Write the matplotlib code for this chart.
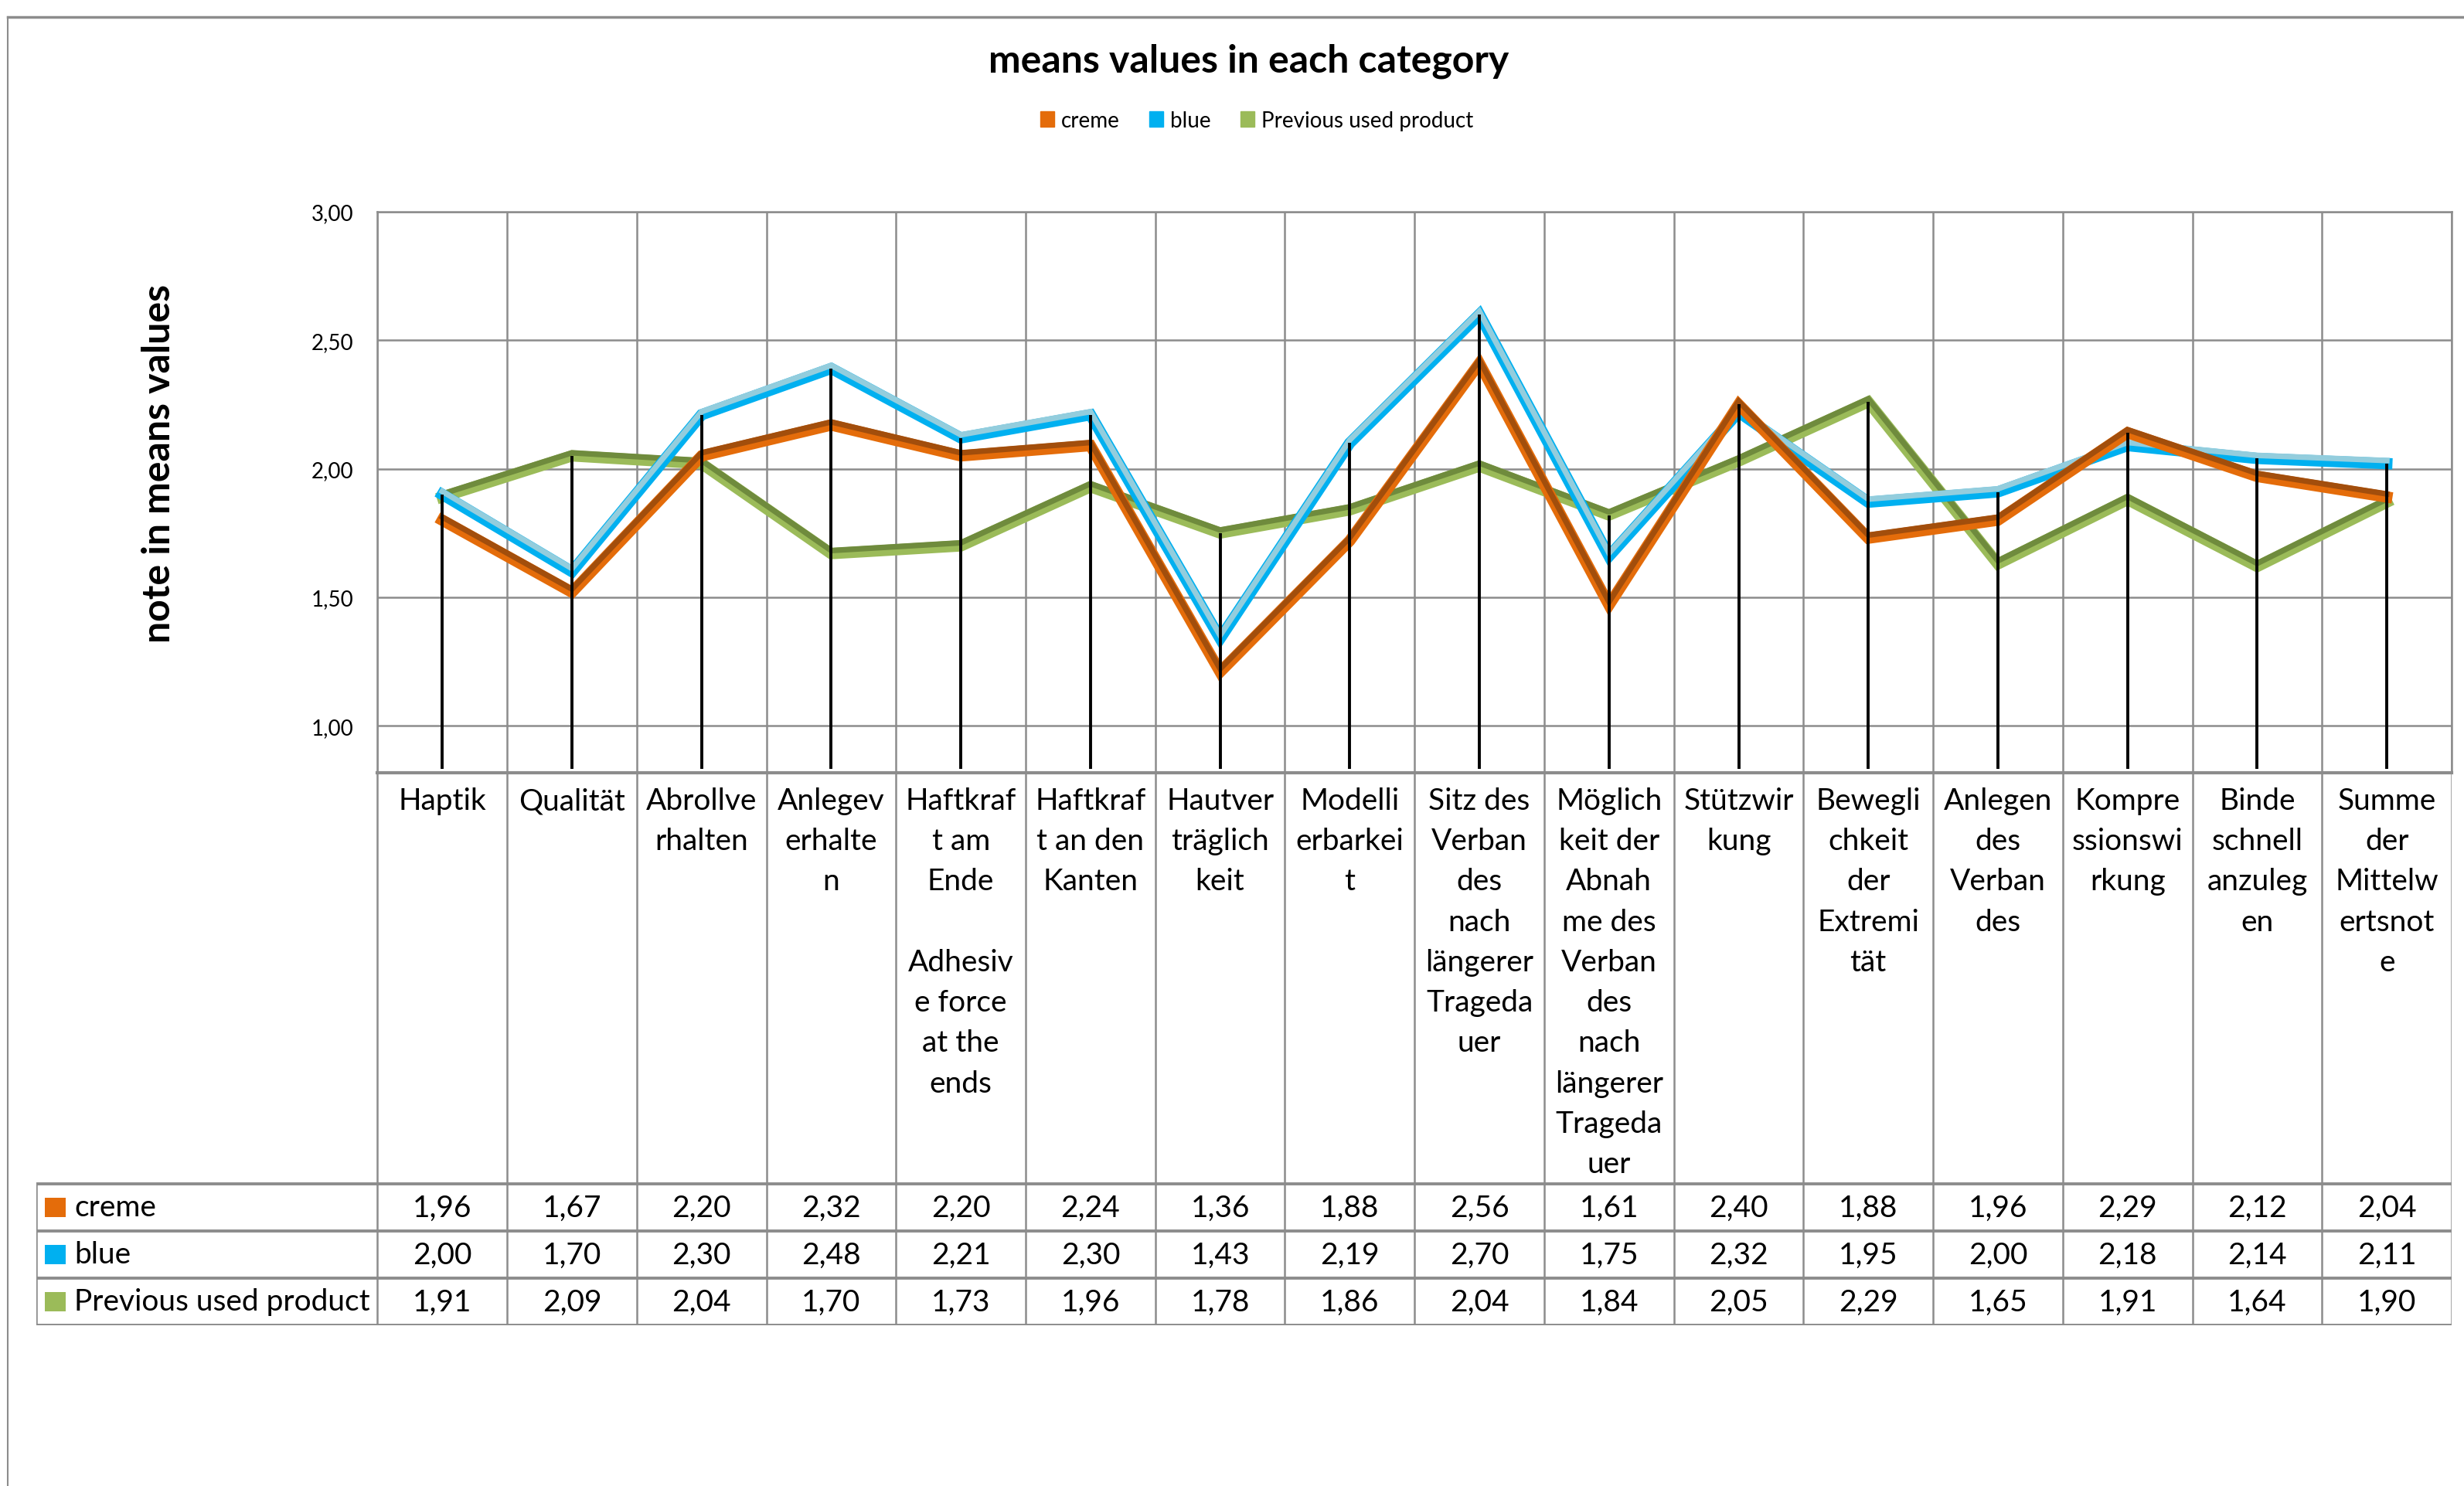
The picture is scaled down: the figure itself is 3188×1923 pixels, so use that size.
"""Mittelwerte je Kategorie: Liniendiagramm mit Datentabelle."""
import matplotlib

matplotlib.use("Agg")
import matplotlib.pyplot as plt
import numpy as np
from matplotlib import transforms
from matplotlib.lines import Line2D
from matplotlib.patches import Patch, Rectangle

plt.rcParams["font.family"] = ["Lato", "DejaVu Sans"]

# Размер картинки в пикселях
W, H = 3188, 1924
DPI = 100

CATEGORIES = [
    "Haptik",
    "Qualität",
    "Abrollve\nrhalten",
    "Anlegev\nerhalte\nn",
    "Haftkraf\nt am\nEnde\n\nAdhesiv\ne force\nat the\nends",
    "Haftkraf\nt an den\nKanten",
    "Hautver\nträglich\nkeit",
    "Modelli\nerbarkei\nt",
    "Sitz des\nVerban\ndes\nnach\nlängerer\nTrageda\nuer",
    "Möglich\nkeit der\nAbnah\nme des\nVerban\ndes\nnach\nlängerer\nTrageda\nuer",
    "Stützwir\nkung",
    "Bewegli\nchkeit\nder\nExtremi\ntät",
    "Anlegen\ndes\nVerban\ndes",
    "Kompre\nssionswi\nrkung",
    "Binde\nschnell\nanzuleg\nen",
    "Summe\nder\nMittelw\nertsnot\ne",
]
SERIES = ["creme", "blue", "Previous used product"]

# Werte, wie die Linien sie zeigen
CREME_LINE = [1.80, 1.52, 2.05, 2.17, 2.05, 2.09, 1.21, 1.72, 2.41, 1.47, 2.25, 1.73, 1.80, 2.14, 1.97, 1.89]
BLUE_LINE = [1.90, 1.60, 2.21, 2.39, 2.12, 2.21, 1.34, 2.10, 2.60, 1.66, 2.22, 1.87, 1.91, 2.09, 2.04, 2.02]
PREV_LINE = [1.89, 2.05, 2.02, 1.67, 1.70, 1.93, 1.75, 1.84, 2.01, 1.82, 2.03, 2.26, 1.63, 1.88, 1.62, 1.87]

# Werte in der Datentabelle
CREME_TABLE = [1.96, 1.67, 2.20, 2.32, 2.20, 2.24, 1.36, 1.88, 2.56, 1.61, 2.40, 1.88, 1.96, 2.29, 2.12, 2.04]
BLUE_TABLE = [2.00, 1.70, 2.30, 2.48, 2.21, 2.30, 1.43, 2.19, 2.70, 1.75, 2.32, 1.95, 2.00, 2.18, 2.14, 2.11]
PREV_TABLE = [1.91, 2.09, 2.04, 1.70, 1.73, 1.96, 1.78, 1.86, 2.04, 1.84, 2.05, 2.29, 1.65, 1.91, 1.64, 1.90]

Y_TICKS = [1.0, 1.5, 2.0, 2.5, 3.0]
Y_MIN, Y_MAX = 0.818, 3.0
DROP_BOTTOM = 0.833

# Farben: (Hauptfarbe unten, Kante oben)
COLORS = {
    "creme": ("#E46C0A", "#A24E0C"),
    "blue": ("#00B0F0", "#93CDDD"),
    "Previous used product": ("#9BBB59", "#6F8B3D"),
}
GRID = "#8C8C8C"

# Lage der Flächen, Pixel
PLOT_L, PLOT_R, PLOT_T, PLOT_B = 488.4, 3172, 274.8, 1001
TABLE_L, TABLE_B = 47, 1716
HEADER_H, ROW_H = 532, 61


def fmt(v):
    return f"{v:.2f}".replace(".", ",")


def bevel_line(ax, fig, x, y, base, edge, z):
    """Linie mit dunkler/heller Oberkante wie im Excel-Stil."""
    ax.plot(x, y, color=base, lw=10.5, solid_joinstyle="miter", zorder=z)
    up = transforms.offset_copy(ax.transData, fig=fig, x=0, y=4, units="dots")
    ax.plot(x, y, color=edge, lw=5.2, solid_joinstyle="miter", transform=up, zorder=z + 0.1)


fig = plt.figure(figsize=(W / DPI, H / DPI), dpi=DPI)

# Rahmen des Diagrammbereichs
fig.add_artist(Line2D([10 / W, 1], [1 - 23 / H, 1 - 23 / H], transform=fig.transFigure, color=GRID, lw=2.5))
fig.add_artist(Line2D([10 / W, 10 / W], [0, 1 - 23 / H], transform=fig.transFigure, color=GRID, lw=1.5))

ax = fig.add_axes([PLOT_L / W, 1 - PLOT_B / H, (PLOT_R - PLOT_L) / W, (PLOT_B - PLOT_T) / H])
n = len(CATEGORIES)
x = np.arange(n)
ax.set_xlim(-0.5, n - 0.5)
ax.set_ylim(Y_MIN, Y_MAX)
ax.set_xticks(np.arange(-0.5, n, 1.0))
ax.set_xticklabels([])
ax.set_yticks(Y_TICKS)
ax.set_yticklabels([fmt(v) for v in Y_TICKS], fontsize=20)
ax.tick_params(length=0, pad=22)
ax.grid(True, color=GRID, lw=1.8)
ax.set_axisbelow(True)
for s in ax.spines.values():
    s.set_color(GRID)
    s.set_linewidth(1.8)
ax.spines["bottom"].set_linewidth(3)

lines = {"creme": CREME_LINE, "blue": BLUE_LINE, "Previous used product": PREV_LINE}
for z, name in zip([3, 4, 5], ["Previous used product", "blue", "creme"]):
    base, edge = COLORS[name]
    bevel_line(ax, fig, x, lines[name], base, edge, z)

tops = np.max([CREME_LINE, BLUE_LINE, PREV_LINE], axis=0)
ax.vlines(x, DROP_BOTTOM, tops, colors="black", lw=2.8, zorder=7)

# Datentabelle
unit = (PLOT_R - PLOT_L) / n
label_w = (PLOT_L - TABLE_L) / unit
tab = fig.add_axes([TABLE_L / W, 1 - TABLE_B / H, (PLOT_R - TABLE_L) / W, (TABLE_B - PLOT_B) / H])
x0 = -0.5 - label_w
total_h = HEADER_H + 3 * ROW_H
tab.set_xlim(x0, n - 0.5)
tab.set_ylim(total_h, 0)
tab.axis("off")

for b in np.arange(-0.5, n, 1.0):
    tab.plot([b, b], [0, total_h], color=GRID, lw=1.8)
tab.plot([x0, x0], [HEADER_H, total_h], color=GRID, lw=1.8)
for k in range(4):
    yy = HEADER_H + k * ROW_H
    tab.plot([x0, n - 0.5], [yy, yy], color=GRID, lw=2.8)

for i, label in enumerate(CATEGORIES):
    tab.text(i, 18, label, ha="center", va="top", fontsize=28, linespacing=1.56)

table = {"creme": CREME_TABLE, "blue": BLUE_TABLE, "Previous used product": PREV_TABLE}
for r, name in enumerate(SERIES):
    yc = HEADER_H + (r + 0.5) * ROW_H
    tab.add_patch(Rectangle((x0 + 11 / unit, yc - 12.5), 27 / unit, 25, color=COLORS[name][0], lw=0))
    tab.text(x0 + 49 / unit, yc, name, ha="left", va="center", fontsize=28)
    for i, v in enumerate(table[name]):
        tab.text(i, yc, fmt(v), ha="center", va="center", fontsize=28)

fig.text(1616 / W, 1 - 79 / H, "means values in each category", ha="center", va="center",
         fontsize=36, fontweight="bold")
fig.text(205 / W, 1 - 600 / H, "note in means values", ha="center", va="center",
         rotation=90, fontsize=36, fontweight="bold")

handles = [Patch(color=COLORS[s][0]) for s in SERIES]
fig.legend(handles, SERIES, loc="center", bbox_to_anchor=(1626 / W, 1 - 157 / H), ncol=3,
           frameon=False, fontsize=20, handlelength=0.65, handleheight=0.75,
           handletextpad=0.3, columnspacing=1.4)

fig.savefig("out.png", dpi=DPI)
